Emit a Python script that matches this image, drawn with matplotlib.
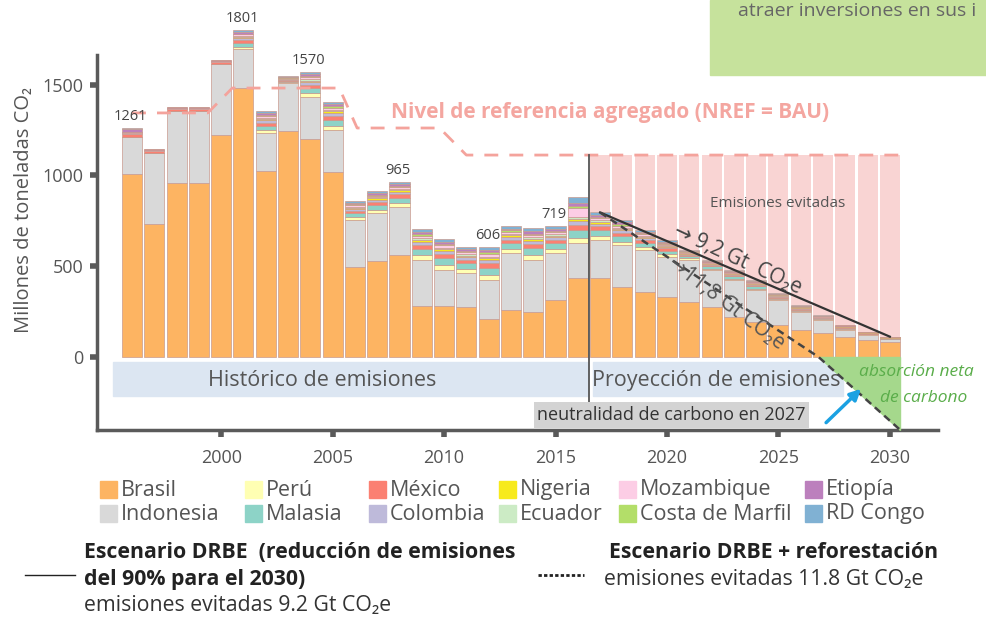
import matplotlib
matplotlib.use("Agg")
import matplotlib.pyplot as plt
from matplotlib import font_manager
from matplotlib.patches import Rectangle
from matplotlib.lines import Line2D
import numpy as np

W, H = 986, 619

# ---- data (millones de toneladas CO2) ----
years = list(range(1996, 2031))
brasil = [1008, 732, 960, 960, 1222, 1480, 1025, 1246, 1202, 1017, 497, 529, 562, 283, 283,
          277, 209, 259, 250, 314, 433, 433, 387, 360, 332, 305, 277, 222, 194, 176,
          149, 130, 112, 94, 84]
indonesia = [204, 393, 395, 395, 391, 215, 206, 261, 230, 233, 257, 263, 266, 252, 197,
             184, 214, 312, 285, 258, 193, 211, 229, 230, 220, 230, 202, 202, 175, 138,
             99, 73, 37, 28, 15]
peru = [0, 0, 0, 0, 0, 14, 18, 5, 20, 24, 15, 18, 20, 26, 26, 22, 28, 23, 27, 22,
        30, 23, 20, 16, 13, 8, 8, 8, 8, 5, 5, 4, 4, 3, 2]
malasia = [0, 0, 0, 0, 0, 20, 24, 8, 28, 32, 22, 26, 29, 36, 37, 32, 40, 33, 38, 32,
           45, 33, 28, 24, 20, 12, 12, 12, 12, 8, 8, 6, 6, 4, 3]
mexico = [16, 8, 9, 9, 9, 16, 18, 7, 20, 22, 15, 18, 19, 22, 22, 19, 24, 20, 23, 19,
          26, 20, 20, 16, 13, 8, 8, 8, 8, 5, 6, 4, 4, 3, 2]
colombia = [8, 4, 4, 4, 4, 12, 13, 4, 14, 15, 10, 12, 14, 17, 17, 15, 18, 15, 17, 15,
            20, 15, 14, 11, 9, 6, 6, 6, 6, 4, 4, 3, 3, 2, 1]
nigeria = [0, 0, 0, 0, 0, 6, 7, 2, 8, 9, 6, 7, 8, 10, 10, 9, 11, 9, 10, 9,
           12, 9, 8, 6, 5, 3, 3, 3, 3, 2, 2, 2, 2, 1, 1]
ecuador = [0, 0, 0, 0, 0, 5, 6, 2, 7, 8, 5, 6, 7, 8, 9, 7, 9, 8, 9, 7,
           10, 8, 7, 5, 5, 3, 3, 3, 3, 2, 2, 1, 1, 1, 1]
mozambique = [5, 2, 2, 2, 2, 8, 10, 3, 11, 12, 8, 9, 10, 13, 13, 11, 14, 11, 13, 11,
              50, 11, 11, 9, 7, 4, 4, 4, 4, 3, 3, 2, 2, 1, 1]
costa_marfil = [0, 0, 0, 0, 0, 5, 6, 2, 7, 8, 5, 6, 7, 8, 8, 7, 9, 7, 8, 7,
                10, 7, 7, 5, 4, 2, 2, 2, 2, 2, 2, 1, 1, 1, 0]
etiopia = [12, 4, 5, 5, 5, 9, 10, 3, 10, 11, 8, 9, 9, 12, 12, 10, 12, 10, 12, 10,
           20, 10, 10, 8, 7, 4, 4, 4, 4, 3, 3, 2, 2, 1, 1]
rd_congo = [8, 2, 2, 2, 2, 11, 12, 4, 13, 15, 11, 13, 14, 17, 17, 15, 18, 16, 18, 15,
            30, 16, 13, 10, 9, 5, 5, 5, 5, 3, 3, 3, 3, 1, 1]

countries = ['Brasil', 'Indonesia', 'Perú', 'Malasia', 'México', 'Colombia', 'Nigeria',
             'Ecuador', 'Mozambique', 'Costa de Marfil', 'Etiopía', 'RD Congo']
series = [brasil, indonesia, peru, malasia, mexico, colombia, nigeria, ecuador,
          mozambique, costa_marfil, etiopia, rd_congo]
colors = ['#fdb462', '#d9d9d9', '#ffffb3', '#8dd3c7', '#fb8072', '#bebada', '#f7ea1c',
          '#ccebc5', '#fccde5', '#b3de69', '#bc80bd', '#80b1d3']

labelled_years = [1996, 2001, 2004, 2008, 2012, 2015]
first_projection = 2017

# aggregated reference level (NREF = BAU)
nref_x = [1996.0, 1999.4, 2000.5, 2005.3, 2006.1, 2009.8, 2011.0, 2030.45]
nref_y = [1344, 1344, 1481, 1481, 1261, 1261, 1112, 1112]
# DRBE scenario and DRBE + reforestation
drbe_x = [2017, 2030]
drbe_y = [796, 112]
refor_x = [2017, 2026.8, 2030.45]
refor_y = [796, 0, -400]
sink_x = [2026.8, 2030.45, 2030.45]
sink_y = [0, 0, -400]

# ---- fonts ----
avail = {f.name for f in font_manager.fontManager.ttflist}
NARROW = 'Liberation Sans Narrow' if 'Liberation Sans Narrow' in avail else 'Open Sans'
plt.rcParams['font.family'] = ['Open Sans', 'DejaVu Sans']
GREY = '#555555'
AXC = '#5a5a5a'

fig = plt.figure(figsize=(W / 100, H / 100), dpi=100)
ax = fig.add_axes([97 / W, 1 - 430 / H, (938 - 97) / W, (430 - 55) / H])
ax.set_xlim(1994.43, 2032.16)
ax.set_ylim(-402, 1663)
ax.patch.set_alpha(0)

yrs = np.array(years)
bottom = np.zeros(len(years))
for name, vals, c in zip(countries, series, colors):
    v = np.array(vals, dtype=float)
    ax.bar(yrs, v, bottom=bottom, width=0.9, color=c, edgecolor='#c99a8e',
           linewidth=0.5, zorder=3, clip_on=False)
    bottom += v
totals = bottom

# avoided emissions (pink) in the projection period
proj = yrs >= first_projection
ref_level = np.interp(yrs, nref_x, nref_y)
ax.bar(yrs[proj], (ref_level - totals)[proj], bottom=totals[proj], width=0.9,
       color='#f9d4d3', linewidth=0, zorder=2)

# bands
ax.add_patch(Rectangle((1995.15, -215), 2016.44 - 1995.15, 188, color='#dce6f2', zorder=1))
ax.add_patch(Rectangle((2016.66, -215), 2027.9 - 2016.66, 188, color='#dce6f2', zorder=1))
ax.text(2004.54, -128, 'Histórico de emisiones', ha='center', va='center',
        fontsize=15.5, color=GREY, zorder=4)
ax.text(2022.19, -128, 'Proyección de emisiones', ha='center', va='center',
        fontsize=15.5, color=GREY, zorder=6)

# sink triangle
ax.fill(sink_x, sink_y, color='#a5d88c', zorder=5, clip_on=False)

# lines
ax.plot(nref_x, nref_y, color='#f4a39c', lw=2, dashes=(5, 4), zorder=4)
ax.plot([2016.5, 2016.5], [1112, -292], color='#555', lw=1.3, zorder=4)
ax.plot(drbe_x, drbe_y, color='#333333', lw=1.6, zorder=6)
ax.plot(refor_x, refor_y, color='#444444', lw=1.8, dashes=(3, 2), zorder=6, clip_on=False)

# labels on totals
for yr in labelled_years:
    i = years.index(yr)
    ax.annotate(f'{int(round(totals[i]))}', (yr, totals[i]), xytext=(-1, 3),
                textcoords='offset points', ha='center', va='bottom',
                fontsize=10.5, color='#444444', zorder=7, annotation_clip=False)

ax.text(2007.6, 1344, 'Nivel de referencia agregado (NREF = BAU)', ha='left', va='center',
        fontsize=15, fontweight='bold', color='#f4a6a0', zorder=7)
ax.text(2024.98, 848, 'Emisiones evitadas', ha='center', va='center', fontsize=11,
        color=GREY, zorder=7)
ax.text(2023.18, 534, '→ 9,2 Gt  CO₂e', ha='center', va='center', fontsize=15,
        color='#444444', rotation=-25, rotation_mode='anchor', zorder=7)
ax.text(2022.64, 297, '→11,8 Gt CO₂e', ha='center', va='center', fontsize=15,
        color='#555555', rotation=-37, rotation_mode='anchor', zorder=7)

ax.text(2020.21, -320, 'neutralidad de carbono en 2027', ha='center', va='center',
        fontsize=13, color='#333333', zorder=7,
        bbox=dict(boxstyle='square,pad=0.2', facecolor='#d3d3d3', edgecolor='none'))
ax.text(2031.2, -85, 'absorción neta', ha='center', va='center', fontsize=12.5,
        style='italic', color='#5aad4a', zorder=7)
ax.text(2031.5, -226, 'de carbono', ha='center', va='center', fontsize=12.5,
        style='italic', color='#5aad4a', zorder=7)
ax.annotate('', xy=(2028.8, -165), xytext=(2027.05, -372),
            arrowprops=dict(arrowstyle='-|>', color='#1ba1e2', lw=2.5, mutation_scale=16),
            zorder=8, annotation_clip=False)

# axes styling
for s in ['top', 'right']:
    ax.spines[s].set_visible(False)
for s in ['left', 'bottom']:
    ax.spines[s].set_color(AXC)
    ax.spines[s].set_linewidth(2.5)
ax.set_xticks([2000, 2005, 2010, 2015, 2020, 2025, 2030])
ax.set_yticks([0, 500, 1000, 1500])
ax.tick_params(axis='both', length=5, width=4, color=AXC, labelsize=13,
               labelcolor=GREY, pad=5)
ax.tick_params(axis='x', pad=9)
fig.text(24 / W, 1 - 210 / H, 'Millones de toneladas CO₂', rotation=90, ha='center',
         va='center', fontsize=14.5, color=GREY)

# top-right green box (cropped in the original)
fig.patches.append(Rectangle((710 / W, 1 - 75 / H), 276 / W, 75 / H,
                             transform=fig.transFigure, color='#c6e29c', zorder=0))
fig.text(738 / W, 1 - 16 / H, 'atraer inversiones en sus i', ha='left',
         va='baseline', fontsize=14, color='#666666')

# legend
legend_rows = [['Brasil', 'Perú', 'México', 'Nigeria', 'Mozambique', 'Etiopía'],
               ['Indonesia', 'Malasia', 'Colombia', 'Ecuador', 'Costa de Marfil', 'RD Congo']]
col_x = [100, 245, 369, 499, 619, 805]
row_y = [490, 514]
cmap = dict(zip(countries, colors))
for r, row in enumerate(legend_rows):
    for cx, name in zip(col_x, row):
        fig.patches.append(Rectangle((cx / W, 1 - (row_y[r] + 8) / H), 17 / W, 17 / H,
                                     transform=fig.transFigure, color=cmap[name]))
        fig.text((cx + 21) / W, 1 - row_y[r] / H, name, ha='left', va='center',
                 fontsize=15.5, color=GREY, family=NARROW)

# scenario notes
fig.add_artist(Line2D([25 / W, 75 / W], [1 - 575 / H] * 2, color='#222222', lw=1.0))
fig.add_artist(Line2D([538 / W, 584 / W], [1 - 575 / H] * 2, color='#222222', lw=2.0,
                      dashes=(1.2, 0.8)))
fig.text(84 / W, 1 - 553 / H, 'Escenario DRBE  (reducción de emisiones', ha='left',
         va='center', fontsize=15.3, fontweight='bold', color='#222222', family=NARROW)
fig.text(84 / W, 1 - 580 / H, 'del 90% para el 2030)', ha='left', va='center',
         fontsize=15.3, fontweight='bold', color='#222222', family=NARROW)
fig.text(84 / W, 1 - 606 / H, 'emisiones evitadas 9.2 Gt CO₂e', ha='left', va='center',
         fontsize=15.3, color='#333333', family=[NARROW, 'DejaVu Sans'])
fig.text(609 / W, 1 - 553 / H, 'Escenario DRBE + reforestación', ha='left', va='center',
         fontsize=15.3, fontweight='bold', color='#222222', family=NARROW)
fig.text(604 / W, 1 - 579 / H, 'emisiones evitadas 11.8 Gt CO₂e', ha='left', va='center',
         fontsize=15.3, color='#333333', family=[NARROW, 'DejaVu Sans'])

fig.savefig('out.png', dpi=100)
